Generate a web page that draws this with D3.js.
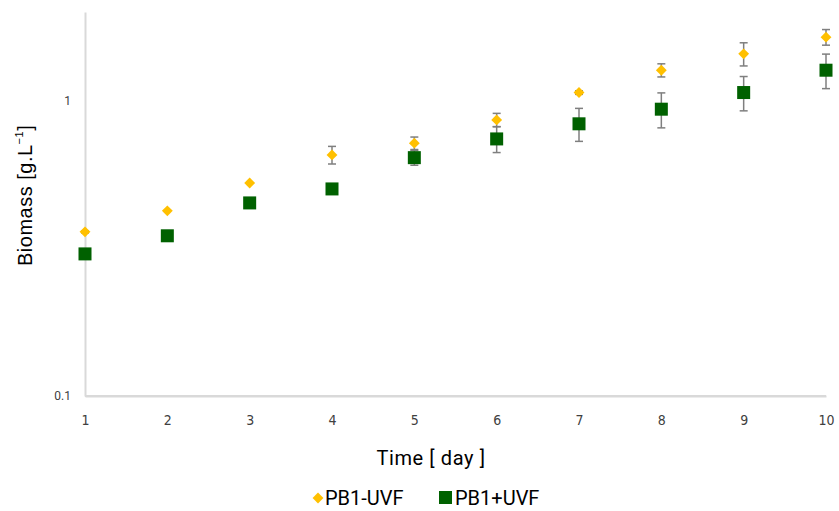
<html>
<head>
<meta charset="utf-8">
<script src="https://d3js.org/d3.v7.min.js"></script>
<style>
  body { margin: 0; background: #fff; }
  svg text { font-family: "Roboto", "Liberation Sans", sans-serif; }
</style>
</head>
<body>
<script>
  // days 1..10
  const days = [1, 2, 3, 4, 5, 6, 7, 8, 9, 10];

  // PB1-UVF (yellow diamonds)
  const minusUvf = [0.36, 0.424, 0.527, 0.656, 0.719, 0.862, 1.067, 1.27, 1.443, 1.644];
  const minusErr = [0.003, 0, 0, 0.045, 0.035, 0.045, 0.015, 0.065, 0.13, 0.10];

  // PB1+UVF (green squares)
  const plusUvf = [0.303, 0.349, 0.451, 0.503, 0.642, 0.743, 0.836, 0.937, 1.067, 1.27];
  const plusErr = [0, 0, 0, 0, 0.037, 0.075, 0.107, 0.127, 0.142, 0.17];

  const yTicks = [0.1, 1];
  const seriesNames = ["PB1-UVF", "PB1+UVF"];

  const w = 839, h = 511;
  const mLeft = 85, mRight = 826, mTop = 12, mBottom = 396;

  const svg = d3.select("body").append("svg")
      .attr("width", w)
      .attr("height", h);

  const xScale = d3.scaleLinear().domain([1, 10]).range([mLeft, mRight]);
  const yScale = d3.scaleLog().domain([0.1, 2]).range([mBottom, mTop]);

  // axes
  const xAxis = d3.axisBottom(xScale).tickValues(days).tickSize(0).tickPadding(19).tickFormat(d3.format("d"));
  const yAxis = d3.axisLeft(yScale).tickValues(yTicks).tickSize(0).tickPadding(14).tickFormat(d => String(d));

  const gx = svg.append("g")
     .attr("transform", "translate(0," + mBottom + ")")
     .call(xAxis);
  gx.select(".domain").attr("stroke", "#d9d9d9").attr("stroke-width", 2);
  gx.selectAll("text")
     .attr("fill", "#404040")
     .style("font-family", "'Liberation Sans Narrow', 'DejaVu Sans Condensed', sans-serif")
     .style("font-size", "14px");

  const gy = svg.append("g")
     .attr("transform", "translate(" + mLeft + ",0)")
     .call(yAxis);
  gy.select(".domain").attr("stroke", "#d9d9d9").attr("stroke-width", 2);
  gy.selectAll("text")
     .attr("fill", "#404040")
     .style("font-size", "12px");

  // draw the x axis line over the y line end
  svg.append("line")
     .attr("x1", mLeft).attr("x2", mRight)
     .attr("y1", mBottom).attr("y2", mBottom)
     .attr("stroke", "#d9d9d9").attr("stroke-width", 2);

  // error bars
  function errorBars(vals, errs) {
    const g = svg.append("g").attr("stroke", "#7f7f7f").attr("stroke-width", 1.5);
    days.forEach((d, i) => {
      if (!errs[i]) return;
      const x = xScale(d);
      const y1 = yScale(vals[i] + errs[i]);
      const y2 = yScale(vals[i] - errs[i]);
      g.append("line").attr("x1", x).attr("x2", x).attr("y1", y1).attr("y2", y2);
      g.append("line").attr("x1", x - 4).attr("x2", x + 4).attr("y1", y1).attr("y2", y1);
      g.append("line").attr("x1", x - 4).attr("x2", x + 4).attr("y1", y2).attr("y2", y2);
    });
  }
  errorBars(plusUvf, plusErr);
  errorBars(minusUvf, minusErr);

  const diamond = d3.symbol().type(d3.symbolDiamond2).size(75);

  // green squares
  svg.selectAll("rect.plus")
     .data(plusUvf)
     .enter()
     .append("rect")
     .attr("class", "plus")
     .attr("x", (d, i) => xScale(days[i]) - 6.5)
     .attr("y", d => yScale(d) - 6.5)
     .attr("width", 13)
     .attr("height", 13)
     .attr("fill", "#006100");

  // yellow diamonds
  svg.selectAll("path.minus")
     .data(minusUvf)
     .enter()
     .append("path")
     .attr("class", "minus")
     .attr("d", diamond)
     .attr("transform", (d, i) => "translate(" + xScale(days[i]) + "," + yScale(d) + ")")
     .attr("fill", "#ffc000");

  // axis titles
  svg.append("text")
     .attr("x", 431)
     .attr("y", 465)
     .attr("text-anchor", "middle")
     .style("font-size", "20px")
     .style("letter-spacing", "0.6px")
     .attr("fill", "#000")
     .text("Time [ day ]");

  const yt = svg.append("text")
     .attr("transform", "translate(32,266) rotate(-90)")
     .attr("text-anchor", "start")
     .style("font-size", "20px")
     .style("letter-spacing", "0.5px")
     .style("font-family", "'Liberation Sans', Arial, sans-serif")
     .attr("fill", "#000");
  yt.append("tspan").text("Biomass [g.L");
  yt.append("tspan").attr("dy", -9).style("font-size", "11px").text("−1");
  yt.append("tspan").attr("dy", 9).text("]");

  // legend
  const lg = svg.append("g");
  lg.append("path")
     .attr("d", diamond)
     .attr("transform", "translate(318,498)")
     .attr("fill", "#ffc000");
  lg.append("text")
     .attr("x", 325).attr("y", 505)
     .style("font-size", "20px")
     .attr("fill", "#000")
     .text(seriesNames[0]);
  lg.append("rect")
     .attr("x", 439).attr("y", 491)
     .attr("width", 13).attr("height", 13)
     .attr("fill", "#006100");
  lg.append("text")
     .attr("x", 455).attr("y", 505)
     .style("font-size", "20px")
     .attr("fill", "#000")
     .text(seriesNames[1]);
</script>
</body>
</html>
